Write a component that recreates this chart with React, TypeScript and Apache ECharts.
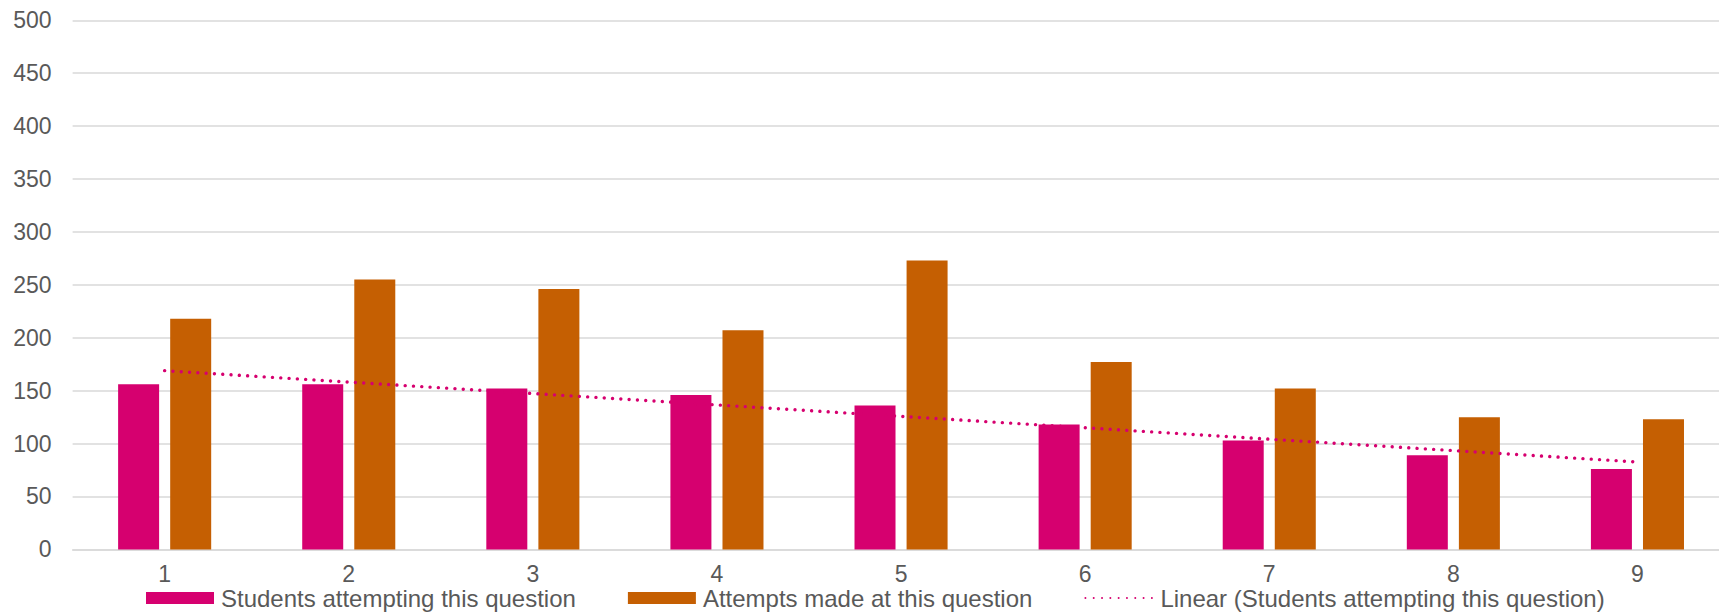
import React, { useEffect, useRef } from "react";
import * as echarts from "echarts";

// Question numbers along the x axis
const questions = ["1", "2", "3", "4", "5", "6", "7", "8", "9"];

// Number of students who attempted each question
const studentsAttempting = [156, 156, 152, 146, 136, 118, 103, 89, 76];

// Total attempts made at each question
const attemptsMade = [218, 255, 246, 207, 273, 177, 152, 125, 123];

// Linear trend of students attempting: value at the first and last question
const trendEnds = [168.9, 82.6];

const PINK = "#D6006F";
const ORANGE = "#C55F02";
const TEXT = "#595959";
const GRID = "#D9D9D9";
const FONT = 'Arial, "Liberation Sans", Helvetica, sans-serif';

export default function App() {
  const ref = useRef<HTMLDivElement>(null);

  useEffect(() => {
    if (!ref.current) return;
    const chart = echarts.init(ref.current, undefined, { renderer: "svg" });

    const trendData: (number | null)[] = questions.map((_, i) =>
      i === 0 ? trendEnds[0] : i === questions.length - 1 ? trendEnds[1] : null
    );

    chart.setOption({
      animation: false,
      backgroundColor: "#ffffff",
      textStyle: { fontFamily: FONT },
      grid: {
        left: 72.6,
        right: -10.5,
        top: 20.3,
        bottom: 62.6,
        containLabel: false,
        outerBoundsMode: "none",
      },
      legend: {
        left: 146,
        top: 586,
        padding: 0,
        itemWidth: 68,
        itemHeight: 12,
        itemGap: 52,
        textStyle: {
          color: TEXT,
          fontSize: 24,
          lineHeight: 20,
          fontFamily: FONT,
          padding: [0, 0, 0, 2],
        },
        data: [
          { name: "Students attempting this question", icon: "rect" },
          { name: "Attempts made at this question", icon: "rect" },
          {
            name: "Linear (Students attempting this question)",
            itemStyle: { opacity: 0 },
          },
        ],
      },
      xAxis: {
        type: "category",
        data: questions,
        axisLine: { lineStyle: { color: GRID, width: 1.5 } },
        axisTick: { show: false },
        axisLabel: {
          color: TEXT,
          fontSize: 23,
          lineHeight: 16,
          margin: 17,
          fontFamily: FONT,
        },
        splitLine: { show: false },
      },
      yAxis: {
        type: "value",
        min: 0,
        max: 500,
        interval: 50,
        axisLine: { show: false },
        axisTick: { show: false },
        axisLabel: { color: TEXT, fontSize: 23, margin: 21, fontFamily: FONT },
        splitLine: { lineStyle: { color: GRID, width: 1.5 } },
      },
      series: [
        {
          name: "Students attempting this question",
          type: "bar",
          data: studentsAttempting,
          barWidth: 41,
          barGap: "27%",
          itemStyle: { color: PINK },
        },
        {
          name: "Attempts made at this question",
          type: "bar",
          data: attemptsMade,
          barWidth: 41,
          itemStyle: { color: ORANGE },
        },
        {
          name: "Linear (Students attempting this question)",
          type: "line",
          data: trendData,
          connectNulls: true,
          symbol: "none",
          z: 5,
          lineStyle: {
            color: PINK,
            width: 3.4,
            type: [0.01, 8.3],
            cap: "round",
          },
          itemStyle: { color: PINK },
        },
      ],
    });

    return () => chart.dispose();
  }, []);

  return (
    <div
      ref={ref}
      style={{ position: "fixed", left: 0, top: 0, width: 1719, height: 612 }}
    />
  );
}
